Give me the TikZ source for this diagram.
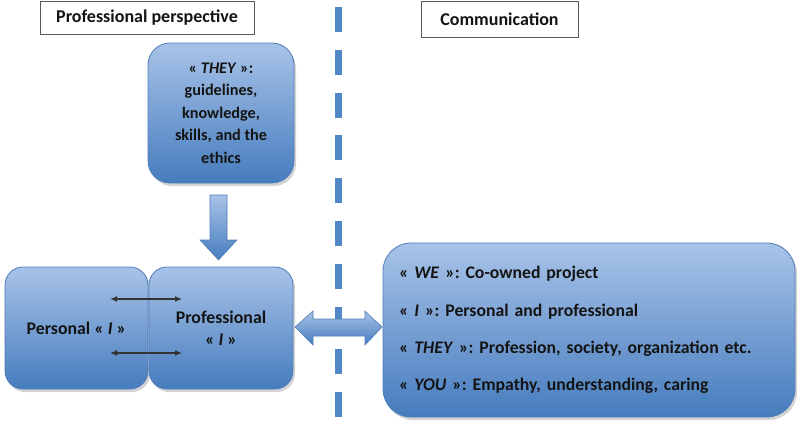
\documentclass[tikz,border=0pt]{standalone}
\usepackage{fontspec}
\setmainfont{Carlito}[BoldItalicFont=* Bold Italic]
\usetikzlibrary{shadows,arrows.meta}
\definecolor{boxtop}{RGB}{168,195,232}
\definecolor{boxbot}{RGB}{70,124,190}
\definecolor{boxline}{RGB}{80,125,185}
\definecolor{dashblue}{RGB}{82,135,200}
\definecolor{txt}{RGB}{20,20,20}
\tikzset{
  bluebox/.style={draw=boxline, line width=0.8pt, top color=boxtop, bottom color=boxbot,
    drop shadow={opacity=0.35, shadow xshift=2pt, shadow yshift=-3pt},
    align=center, font=\bfseries\fontsize{16.2}{22.5}\selectfont, text=txt, inner sep=0pt},
  headbox/.style={draw=black!65, line width=0.8pt, fill=white, font=\bfseries\fontsize{18}{20}\selectfont, text=txt, inner sep=0pt},
  blockarrow/.style={draw=boxline, line width=0.6pt, top color=boxtop, bottom color=boxbot},
  twoway/.style={{Latex[length=7pt,width=6pt]}-{Latex[length=7pt,width=6pt]}, line width=1.6pt, draw=black!80},
}
\begin{document}
\begin{tikzpicture}[x=1pt,y=-1pt]
\useasboundingbox (0,0) rectangle (800,429);
% header boxes
\node[headbox, minimum width=214pt, minimum height=33pt] (pp) at (147,17.5) {Professional perspective};
\node[headbox, minimum width=157pt, minimum height=36pt] (comm) at (499.5,19) {Communication};
% dashed divider
\coordinate (dtop) at (338,7);
\coordinate (dbot) at (338,420);
\draw[line width=7pt, draw=dashblue, dash pattern=on 25pt off 17.8pt] (dtop) -- (dbot);
% THEY box
\node[bluebox, rounded corners=22pt, minimum width=146pt, minimum height=140pt] (they) at (221,113)
  {« \textit{THEY} »:\\guidelines,\\knowledge,\\skills, and the\\ethics};
% personal / professional
\node[bluebox, rounded corners=18pt, minimum width=143pt, minimum height=122pt, font=\bfseries\fontsize{17.8}{22}\selectfont] (pers) at (76.5,328) {Personal « \textit{I} »};
\node[bluebox, rounded corners=18pt, minimum width=144pt, minimum height=122pt, font=\bfseries\fontsize{17.8}{22}\selectfont] (prof) at (221,328) {Professional\\« \textit{I} »};
% right box
\node[bluebox, rounded corners=28pt, minimum width=412pt, minimum height=174pt, text width=380pt, align=left, font=\bfseries\fontsize{17.7}{37.3}\selectfont] (we) at (589,330)
  {« \textit{WE} »: Co-owned project\\
   « \textit{I} »: Personal and professional\\
   « \textit{THEY} »: Profession, society, organization etc.\\
   « \textit{YOU} »: Empathy, understanding, caring};
% down block arrow
\draw[blockarrow] (210,195) -- (227,195) -- (227,240) -- (237,240) -- (218.5,260) -- (200,240) -- (210,240) -- cycle;
% double block arrow
\draw[blockarrow] (295,327) -- (313,311) -- (313,319) -- (365,319) -- (365,311) -- (382,327) -- (365,345) -- (365,336) -- (313,336) -- (313,345) -- cycle;
% black two-way arrows
\coordinate (a1) at (110,299); \coordinate (b1) at (182,299);
\coordinate (a2) at (110,353); \coordinate (b2) at (182,353);
\draw[twoway] (a1) -- (b1);
\draw[twoway] (a2) -- (b2);
\end{tikzpicture}
\end{document}
